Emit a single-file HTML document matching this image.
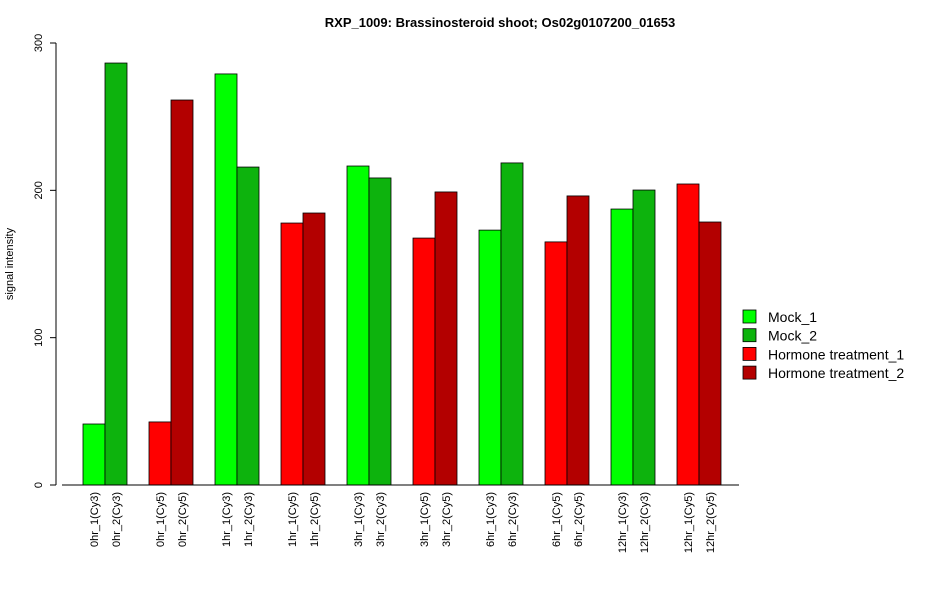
<!DOCTYPE html>
<html><head><meta charset="utf-8"><style>
body{margin:0;background:#fff;}
svg text{font-family:"Liberation Sans",Arial,sans-serif;}
</style></head><body>
<svg id="chart" width="950" height="600" xmlns="http://www.w3.org/2000/svg">
<rect width="950" height="600" fill="#fff"/>
<text x="500" y="27" text-anchor="middle" font-size="13" font-weight="bold">RXP_1009: Brassinosteroid shoot; Os02g0107200_01653</text>
<text transform="translate(13,264) rotate(-90)" text-anchor="middle" font-size="11">signal intensity</text>
<g id="yaxis"></g>
<g id="bars"></g>
<g id="xlabels"></g>
<line x1="62" y1="485" x2="739" y2="485" stroke="#000"/>
<g id="legend"></g>
</svg>
<script>
const categories=["0hr_1(Cy3)","0hr_2(Cy3)","0hr_1(Cy5)","0hr_2(Cy5)","1hr_1(Cy3)","1hr_2(Cy3)","1hr_1(Cy5)","1hr_2(Cy5)","3hr_1(Cy3)","3hr_2(Cy3)","3hr_1(Cy5)","3hr_2(Cy5)","6hr_1(Cy3)","6hr_2(Cy3)","6hr_1(Cy5)","6hr_2(Cy5)","12hr_1(Cy3)","12hr_2(Cy3)","12hr_1(Cy5)","12hr_2(Cy5)"];
const values=[41.4,286.4,42.8,261.3,279,215.8,177.8,184.6,216.5,208.4,167.6,198.9,173,218.6,165,196.2,187.3,200.2,204.3,178.5];
const seriesIdx=[0,1,2,3,0,1,2,3,0,1,2,3,0,1,2,3,0,1,2,3];
const seriesNames=["Mock_1","Mock_2","Hormone treatment_1","Hormone treatment_2"];
const yTicks=[0,100,200,300];
const colors=["#00ff00","#0db30d","#ff0000","#b30000"];
const NS="http://www.w3.org/2000/svg";
const y=v=>485-v*(442/300);
const x=i=>83+Math.floor(i/2)*66+(i%2)*22;
const bw=22;
function mk(t,a,p){const e=document.createElementNS(NS,t);for(const k in a)e.setAttribute(k,a[k]);p.appendChild(e);return e;}
const ya=document.getElementById('yaxis');
const yl=mk('line',{x1:56,y1:y(0),x2:56,y2:y(300),stroke:'#000'},ya);


yTicks.forEach(t=>{
 const l=mk('line',{x1:50,x2:56,y1:y(t),y2:y(t),stroke:'#000'},ya);
 
 
 const tx=mk('text',{transform:`translate(42,${y(t)}) rotate(-90)`,'text-anchor':'middle','font-size':11},ya);
 tx.textContent=t;
 
 
});
const bg=document.getElementById('bars'),xg=document.getElementById('xlabels');
values.forEach((v,i)=>{
 const r=mk('rect',{x:x(i),y:y(v),width:bw,height:y(0)-y(v),fill:colors[seriesIdx[i]],stroke:'#000','stroke-width':0.8},bg);
 
 
 const t=mk('text',{transform:`translate(${x(i)+bw/2+4},492) rotate(-90)`,'text-anchor':'end','font-size':11},xg);
 t.textContent=categories[i];
 
 
});
const lg=document.getElementById('legend');
seriesNames.forEach((n,i)=>{
 const yy=310+i*18.7;
 const r=mk('rect',{x:743,y:yy,width:13,height:13,fill:colors[i],stroke:'#000','stroke-width':0.8},lg);
 
 
 const t=mk('text',{x:768,y:yy+12,'font-size':14},lg);
 t.textContent=n;
 
 
});
</script>
</body></html>
